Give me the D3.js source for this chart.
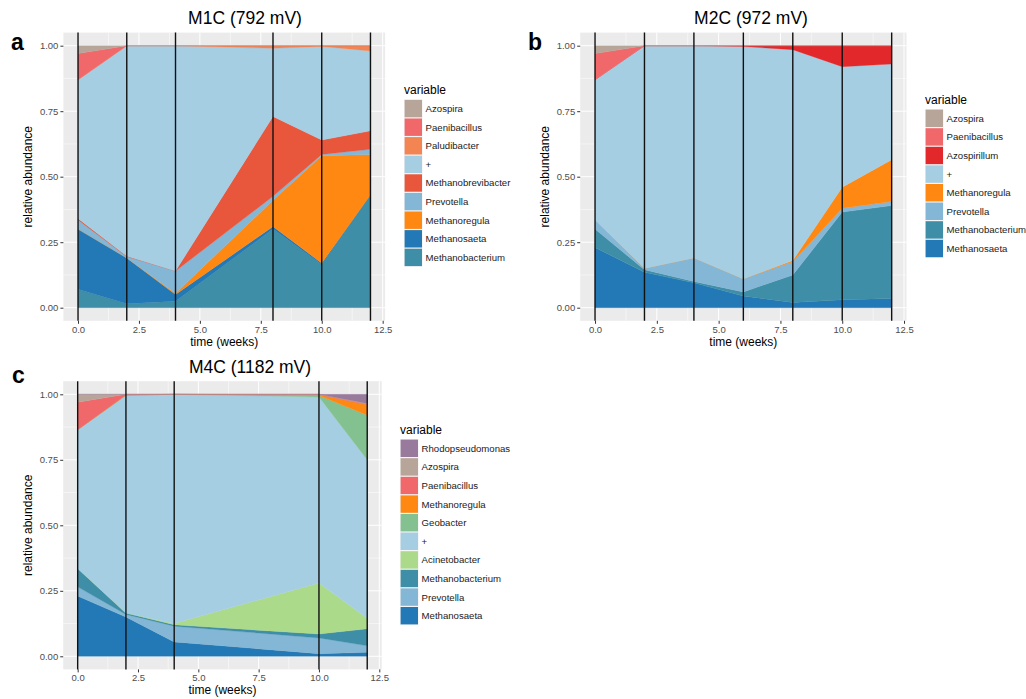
<!DOCTYPE html>
<html>
<head>
<meta charset="utf-8">
<script src="https://cdn.jsdelivr.net/npm/d3@7"></script>
<style>
  body { margin: 0; background: #fff; }
  svg text { font-family: "Liberation Sans", Arial, sans-serif; }
</style>
</head>
<body>
<svg id="chart" width="1026" height="699"></svg>
<script>
// ---- data (relative abundance per taxon, legend order = top of stack first) ----
const timesA = [0, 2, 4, 8, 10, 12];
const taxaA = ["Azospira", "Paenibacillus", "Paludibacter", "+", "Methanobrevibacter",
  "Prevotella", "Methanoregula", "Methanosaeta", "Methanobacterium"];
const valuesA = [
  [0.03, 0, 0, 0, 0, 0],
  [0.10, 0, 0, 0, 0, 0],
  [0, 0, 0, 0.01, 0.003, 0.02],
  [0.53, 0.803, 0.86, 0.26, 0.357, 0.305],
  [0.005, 0.002, 0, 0.305, 0.055, 0.07],
  [0.035, 0.005, 0.085, 0.015, 0.005, 0.02],
  [0, 0, 0.005, 0.10, 0.41, 0.155],
  [0.23, 0.175, 0.025, 0.01, 0.005, 0],
  [0.07, 0.015, 0.025, 0.30, 0.165, 0.43]
];

const timesB = [0, 2, 4, 6, 8, 10, 12];
const taxaB = ["Azospira", "Paenibacillus", "Azospirillum", "+", "Methanoregula",
  "Prevotella", "Methanobacterium", "Methanosaeta"];
const valuesB = [
  [0.03, 0, 0, 0, 0, 0, 0],
  [0.10, 0, 0, 0, 0, 0, 0],
  [0, 0, 0, 0.003, 0.015, 0.08, 0.07],
  [0.535, 0.85, 0.81, 0.887, 0.805, 0.46, 0.365],
  [0, 0, 0, 0, 0.005, 0.08, 0.16],
  [0.035, 0.005, 0.09, 0.05, 0.05, 0.015, 0.015],
  [0.07, 0.01, 0.005, 0.015, 0.105, 0.335, 0.355],
  [0.23, 0.135, 0.095, 0.045, 0.02, 0.03, 0.035]
];

const timesC = [0, 2, 4, 10, 12];
const taxaC = ["Rhodopseudomonas", "Azospira", "Paenibacillus", "Methanoregula", "Geobacter",
  "+", "Acinetobacter", "Methanobacterium", "Prevotella", "Methanosaeta"];
const valuesC = [
  [0, 0, 0, 0, 0.035],
  [0.03, 0, 0, 0, 0.002],
  [0.105, 0.003, 0, 0.002, 0.003],
  [0, 0, 0, 0.003, 0.04],
  [0, 0.002, 0, 0.005, 0.17],
  [0.53, 0.83, 0.875, 0.71, 0.605],
  [0, 0, 0.005, 0.195, 0.04],
  [0.07, 0.005, 0.005, 0.015, 0.065],
  [0.035, 0.01, 0.06, 0.06, 0.025],
  [0.23, 0.15, 0.055, 0.01, 0.015]
];

const xTicks = [0, 2.5, 5, 7.5, 10, 12.5];
const yTicks = [0, 0.25, 0.5, 0.75, 1];

const taxonColor = {
  "Azospira": "#b6a598",
  "Paenibacillus": "#f0686a",
  "Paludibacter": "#f38552",
  "+": "#a6cee3",
  "Methanobrevibacter": "#e8573c",
  "Prevotella": "#84b6d6",
  "Methanoregula": "#ff8813",
  "Methanosaeta": "#2379b5",
  "Methanobacterium": "#3f8ea8",
  "Azospirillum": "#e2282b",
  "Geobacter": "#84c191",
  "Acinetobacter": "#acda8b",
  "Rhodopseudomonas": "#987a9d"
};

const svg = d3.select("#chart");

function drawPanel(cfg) {
  const { times, taxa, values } = cfg;
  const x = d3.scaleLinear().domain([-0.6, 12.6]).range(cfg.xRange);
  const y = d3.scaleLinear().domain([-0.05, 1.05]).range(cfg.yRange);
  const g = svg.append("g");

  // panel background + grid
  g.append("rect")
    .attr("x", cfg.xRange[0]).attr("y", cfg.yRange[1])
    .attr("width", cfg.xRange[1] - cfg.xRange[0])
    .attr("height", cfg.yRange[0] - cfg.yRange[1])
    .attr("fill", "#ebebeb");
  const minorX = d3.range(-1.25, 13, 2.5).filter(v => v > -0.6 && v < 12.6);
  const minorY = [0.125, 0.375, 0.625, 0.875];
  g.selectAll(".mx").data(minorX).join("line")
    .attr("x1", d => x(d)).attr("x2", d => x(d))
    .attr("y1", cfg.yRange[0]).attr("y2", cfg.yRange[1])
    .attr("stroke", "#fff").attr("stroke-width", 0.5);
  g.selectAll(".my").data(minorY).join("line")
    .attr("y1", d => y(d)).attr("y2", d => y(d))
    .attr("x1", cfg.xRange[0]).attr("x2", cfg.xRange[1])
    .attr("stroke", "#fff").attr("stroke-width", 0.5);
  g.selectAll(".gx").data(xTicks).join("line")
    .attr("x1", d => x(d)).attr("x2", d => x(d))
    .attr("y1", cfg.yRange[0]).attr("y2", cfg.yRange[1])
    .attr("stroke", "#fff").attr("stroke-width", 1);
  g.selectAll(".gy").data(yTicks).join("line")
    .attr("y1", d => y(d)).attr("y2", d => y(d))
    .attr("x1", cfg.xRange[0]).attr("x2", cfg.xRange[1])
    .attr("stroke", "#fff").attr("stroke-width", 1);

  // stacked areas: last taxon in legend sits at the bottom
  const rows = times.map((t, i) => {
    const r = { time: t };
    taxa.forEach((k, j) => r[k] = values[j][i]);
    return r;
  });
  const stackOrder = taxa.slice().reverse();
  const series = d3.stack().keys(stackOrder)(rows);
  const area = d3.area()
    .x(d => x(d.data.time))
    .y0(d => y(d[0]))
    .y1(d => y(d[1]));
  g.selectAll(".layer").data(series).join("path")
    .attr("d", area)
    .attr("fill", d => taxonColor[d.key])
    .attr("stroke", d => taxonColor[d.key])
    .attr("stroke-width", 0.3);

  // sampling time lines
  g.selectAll(".vline").data(times).join("line")
    .attr("x1", d => x(d)).attr("x2", d => x(d))
    .attr("y1", cfg.yRange[0]).attr("y2", cfg.yRange[1])
    .attr("stroke", "#111").attr("stroke-width", 1.4);

  // axes
  const xAxis = g.append("g")
    .attr("transform", `translate(0,${cfg.yRange[0]})`)
    .call(d3.axisBottom(x).tickValues(xTicks).tickFormat(d3.format(".1f")).tickSize(3).tickPadding(2));
  const yAxis = g.append("g")
    .attr("transform", `translate(${cfg.xRange[0]},0)`)
    .call(d3.axisLeft(y).tickValues(yTicks).tickFormat(d3.format(".2f")).tickSize(3).tickPadding(2));
  [xAxis, yAxis].forEach(a => {
    a.select(".domain").remove();
    a.selectAll(".tick line").attr("stroke", "#333");
    a.selectAll(".tick text").attr("fill", "#4d4d4d").style("font-size", "9.5px");
  });

  const midX = (cfg.xRange[0] + cfg.xRange[1]) / 2;
  const midY = (cfg.yRange[0] + cfg.yRange[1]) / 2;
  g.append("text").attr("x", midX).attr("y", cfg.yRange[0] + 25)
    .attr("text-anchor", "middle").style("font-size", "12px").text("time (weeks)");
  g.append("text")
    .attr("transform", `translate(${cfg.xRange[0] - 31},${midY}) rotate(-90)`)
    .attr("text-anchor", "middle").style("font-size", "12px").text("relative abundance");

  g.append("text").attr("x", cfg.titleX).attr("y", cfg.titleY)
    .attr("text-anchor", "middle").style("font-size", "17.5px").text(cfg.title);
  g.append("text").attr("x", cfg.letterX).attr("y", cfg.letterY)
    .style("font-size", "23px").style("font-weight", "bold").text(cfg.letter);

  // legend
  const lg = g.append("g").attr("transform", `translate(${cfg.legendX},${cfg.legendY})`);
  lg.append("text").attr("x", 0).attr("y", -5).style("font-size", "12px").text("variable");
  const key = 18.6;
  const items = lg.selectAll(".item").data(taxa).join("g")
    .attr("transform", (d, i) => `translate(0,${i * key})`);
  items.append("rect").attr("width", key).attr("height", key).attr("fill", "#f2f2f2");
  items.append("rect").attr("x", 0.6).attr("y", 0.6)
    .attr("width", key - 1.2).attr("height", key - 1.2)
    .attr("fill", d => taxonColor[d]);
  items.append("text").attr("x", key + 3).attr("y", key / 2 + 3.5)
    .style("font-size", "9.6px").attr("fill", "#1a1a1a").text(d => d);
}

drawPanel({
  times: timesA, taxa: taxaA, values: valuesA,
  xRange: [63.4, 385.1], yRange: [320.8, 32.6],
  title: "M1C (792 mV)", titleX: 245, titleY: 23.5,
  letter: "a", letterX: 11, letterY: 50,
  legendX: 404, legendY: 99.3
});
drawPanel({
  times: timesB, taxa: taxaB, values: valuesB,
  xRange: [580.2, 906.5], yRange: [320.8, 32.6],
  title: "M2C (972 mV)", titleX: 751, titleY: 23.5,
  letter: "b", letterX: 528, letterY: 50,
  legendX: 925, legendY: 109
});
drawPanel({
  times: timesC, taxa: taxaC, values: valuesC,
  xRange: [63.2, 381.7], yRange: [669.4, 381.2],
  title: "M4C (1182 mV)", titleX: 250, titleY: 372.5,
  letter: "c", letterX: 12, letterY: 383,
  legendX: 400, legendY: 439
});
</script>
</body>
</html>
